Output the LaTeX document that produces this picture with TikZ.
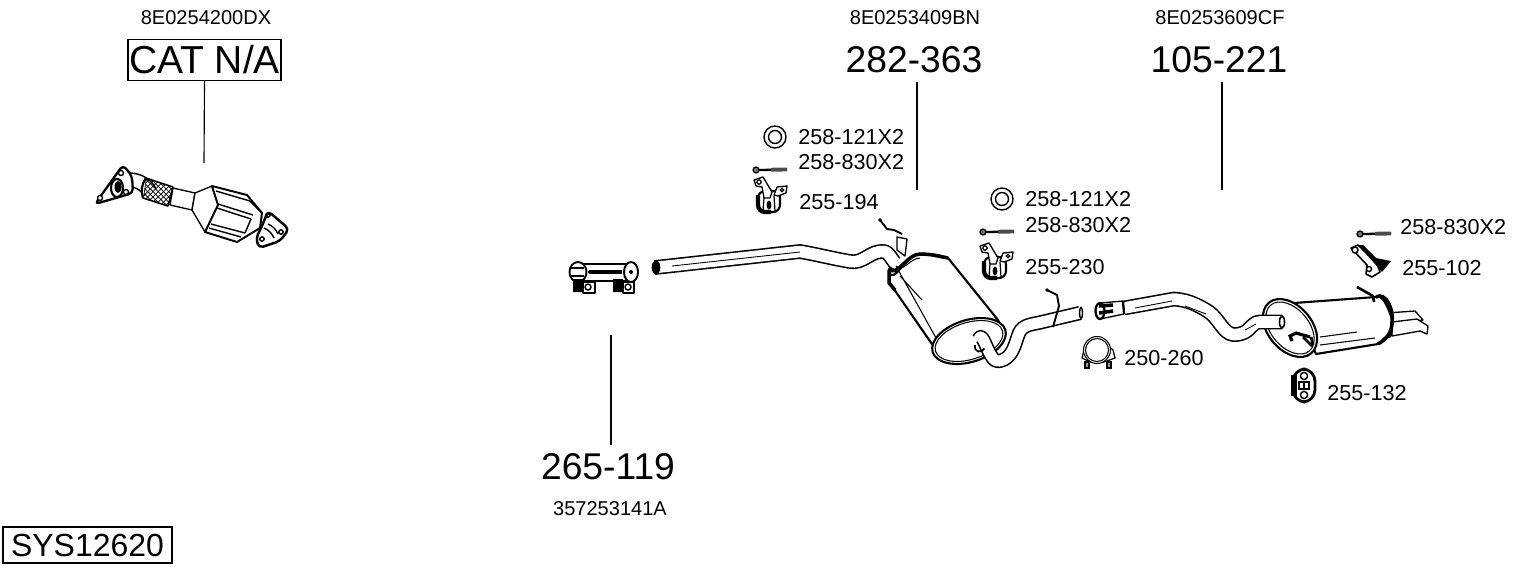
\documentclass[tikz,border=0pt]{standalone}
\usepackage{fontspec}
\setmainfont{Liberation Sans}
\usetikzlibrary{patterns}
\tikzset{
	partno/.style={inner sep=0pt, font=\fontsize{11.4pt}{13pt}\selectfont},
	refno/.style={inner sep=0pt, anchor=west, font=\fontsize{12.3pt}{14pt}\selectfont},
	bignum/.style={inner sep=5pt, font=\fontsize{21.2pt}{24pt}\selectfont},
	boxed/.style={draw, line width=0.6pt, inner sep=0pt, font=\fontsize{22.2pt}{24pt}\selectfont},
	lead/.style={line width=0.65pt},
	part/.style={draw, fill=white, line width=0.75pt, line join=round},
	heavy/.style={draw, fill=white, line width=1.2pt, line join=round},
	tube/.style={line width=0.9pt, double=white, line join=round},
	wire/.style={line width=1.1pt, line join=round},
	pics/hanger/.style={code={
		\draw[heavy, rounded corners=4] (-11,-10) rectangle (11,11);
		\draw[line width=2.4pt, rounded corners=4] (-11,-6) -- (-11,11) -- (2,11);
		\draw[part] (-15,-21) -- (-6,-24) -- (3,-9) -- (1,-3) -- (-5,-3) -- (-7,-14) -- (-13,-15) -- cycle;
		\draw[part] (5,-6) -- (8,-14) -- (18,-15) -- (17,-8) -- (9,-5) -- cycle;
		\draw[line width=0.7pt] (-10,-19) circle (2.2) (13,-11) circle (1.7);
		\fill (0,4) ellipse (2.4 and 4.5);
		\draw[line width=0.7pt] (-5,-3) -- (-6,10) (5,-5) -- (6,10);
	}},
	pics/bolt/.style={code={
		\draw[line width=0.7pt, fill=black!55] (0,0) circle (3);
		\draw[line width=1.3pt] (3,0) -- (31,-0.5);
		\draw[line width=2.2pt, black!70] (15,-0.3) -- (31,-0.5);
	}},
	pics/washer/.style={code={
		\draw[line width=0.8pt] (0,0) circle (11) (0,0) circle (6.5);
	}},
}
\begin{document}
\begin{tikzpicture}[x=0.02cm, y=-0.02cm]
	\useasboundingbox (0,0) rectangle (1530,566);
	% Labels on top and bottom
	\node[partno] (catno) at (206,18) {8E0254200DX};
	\node[boxed, minimum width=153*0.02cm, minimum height=41*0.02cm] (cat) at (204.5,60) {CAT N/A};
	\node[partno] (midno) at (915,18) {8E0253409BN};
	\node[bignum] (mid) at (914,60) {282-363};
	\node[partno] (rearno) at (1220,18) {8E0253609CF};
	\node[bignum] (rear) at (1219,60) {105-221};
	\node[bignum] (clamp) at (608,467) {265-119};
	\node[partno] (clampno) at (610,509) {357253141A};
	\node[boxed, font=\fontsize{18.2pt}{20pt}\selectfont, minimum width=169*0.02cm, minimum height=36*0.02cm] (sys) at (87.5,545) {SYS12620};

	% Leader lines
	\coordinate (catend) at (204,163);
	\coordinate (midend) at (917,190);
	\coordinate (rearend) at (1222,190);
	\coordinate (clampend) at (611,335);
	\draw[lead] (cat.south) -- (catend);
	\draw[lead] (mid.south -| midend) -- (midend);
	\draw[lead] (rear.south -| rearend) -- (rearend);
	\draw[lead] (clamp.north -| clampend) -- (clampend);

	% Small part numbers
	\node[refno] (a1) at (798,137.5) {258-121X2};
	\node[refno] (a2) at (798,162.5) {258-830X2};
	\node[refno] (a3) at (799,202.5) {255-194};
	\node[refno] (b1) at (1025,199.5) {258-121X2};
	\node[refno] (b2) at (1025,225.5) {258-830X2};
	\node[refno] (b3) at (1025,267.5) {255-230};
	\node[refno] (c1) at (1400,227.5) {258-830X2};
	\node[refno] (c2) at (1402,268.5) {255-102};
	\node[refno] (d1) at (1124,358.5) {250-260};
	\node[refno] (d2) at (1327,393.5) {255-132};

	% Small hardware
	\pic at (775,137) {washer};
	\pic at (1002,199) {washer};
	\pic at (756,170) {bolt};
	\pic at (983,232) {bolt};
	\pic at (1360,234) {bolt};
	\pic at (769,201) {hanger};
	\pic at (995,267) {hanger};

	% Catalytic converter
	\draw[tube, double distance=7pt] (128,180) to[bend left=30] (150,192);
	\draw[part, line width=1.3pt, rounded corners=2.5] (123,165) -- (132,176) -- (133,193) -- (95,204) -- cycle;
	\draw[line width=1.2pt] (117,188) ellipse (6 and 9);
	\fill (118,187) ellipse (3.5 and 6);
	\draw[line width=0.8pt, fill=white] (121,173) circle (2.5) (126,192) circle (2.5) (100,198) circle (2.5);
	\draw[part] (173,188) -- (195,193) -- (192,210) -- (170,205) -- cycle;
	\draw[part, line width=0.9pt, pattern=crosshatch] (146,178) -- (173,187) -- (168,206) -- (143,198) -- cycle;
	\draw[heavy] (146,178) to[bend right=25] (143,198);
	\draw[part] (195,193) -- (212,186) -- (218,205) -- (205,232) -- (192,210) -- cycle;
	\draw[part, line width=1.1pt] (212,186) -- (247,195) -- (262,213) -- (260,228) -- (237,242) -- (205,232) -- (218,205) -- cycle;
	\draw[line width=0.8pt] (216,191) -- (250,201) (218,204) -- (253,215) (217,208) -- (251,219) (211,224) -- (245,233) (209,228) -- (241,237);
	\draw[line width=0.8pt] (250,201) -- (262,213) (251,219) -- (245,233);
	\draw[heavy, line width=1.4pt, rounded corners=2.5] (268,211) -- (289,229) -- (280,241) -- (259,248) -- (256,238) -- (262,226) -- cycle;
	\draw[line width=0.8pt] (268,215) circle (2.2) (281,232) circle (2.2) (262,239) circle (2.2);
	\draw[line width=0.8pt] (264,228) to[bend left=20] (274,238) (268,224) to[bend left=20] (278,234);

	% Sliding clamp
	\draw[part] (582,264) rectangle (626,281);
	\draw[line width=2.2pt] (590,272) -- (622,272);
	\draw[part, line width=1.1pt] (578,272) ellipse (8.5 and 10);
	\draw[line width=1.3pt] (571,268) -- (584,268) (571,276) -- (584,276);
	\draw[part, line width=1.1pt] (631,272) ellipse (7 and 10);
	\fill (590,272) circle (2) (631,272) circle (2);
	\fill (573,279) rectangle (583,292) (613,279) rectangle (623,292);
	\draw[part] (583,282) rectangle (595,293) (623,282) rectangle (634,293);
	\draw[line width=0.8pt] (588,287) circle (3) (628,287) circle (3);

	% Middle pipe and silencer
	\draw[tube, double distance=6.6pt] (655,267.5) -- (800,251.5) to[out=-10, in=170] (850,261.5) to[out=-10, in=175] (884,251.5) to[out=-5, in=-125] (898,262);
	\draw[line width=0.5pt] (672,266) -- (800,252);
	\draw[line width=0.9pt, fill=black] (656,267.5) ellipse (3.5 and 6.5);
	\draw[part] (897,237) -- (907,239) -- (905,256) -- (897,250) -- cycle;
	\draw[wire] (880,220) -- (887,229) -- (894,230) -- (902,234);
	\fill (880,220) circle (1.8);

	\draw[heavy] (889,272) to[out=-70, in=180] (920,254) to[out=0, in=160] (948,258) -- (998,320) -- (1005,335) -- (934,347) -- (889,282) -- cycle;
	\draw[line width=2pt] (889,268) to[out=-60, in=180] (920,254) to[out=0, in=170] (948,258);
	\draw[line width=0.6pt] (896,266) to[out=-50, in=180] (920,258) (896,266) -- (936,338) (900,276) -- (922,300);
	\draw[line width=2pt] (889,270) -- (889,283) -- (895,290);
	\draw[part, line width=1.2pt] (969,341) ellipse [x radius=38, y radius=21, rotate=17];
	\draw[line width=0.6pt] (969,341) ellipse [x radius=35, y radius=18.5, rotate=17];
	\draw[tube, double distance=6.3pt] (979,339) to[out=70, in=-160] (1000,361) to[out=15, in=-110] (1019,333) to[out=65, in=-165] (1042,322) -- (1080,313);
	\draw[line width=1pt] (975,345) arc[start angle=200, end angle=20, radius=5];
	\draw[line width=0.8pt, fill=white] (1081,313) ellipse (1.5 and 5.5);
	\draw[wire] (1047,290) -- (1057,295) -- (1059,306) -- (1053,327);
	\fill (1047,290) circle (1.8);

	% Rear pipe and silencer
	\draw[part] (1386,313) -- (1415,311) -- (1423,320) -- (1410,322) -- (1390,324) -- cycle;
	\draw[part] (1392,322) -- (1417,319) -- (1428,326) -- (1427,334) -- (1420,331) -- (1392,336) -- cycle;

	\draw[heavy] (1294,303) -- (1376,297) to[out=30, in=-70] (1392,322) to[out=100, in=-20] (1388,337) to[out=160, in=10] (1378,344) -- (1316,354) -- cycle;
	\draw[line width=2pt] (1376,297) to[out=30, in=80] (1392,322) to[out=-90, in=30] (1378,344);
	\draw[line width=0.6pt] (1320,337) -- (1357,332) (1320,345) -- (1375,338);
	\draw[part, line width=1.2pt] (1290,328) ellipse [x radius=33, y radius=22, rotate=-50];
	\draw[line width=0.6pt] (1290,328) ellipse [x radius=30, y radius=19, rotate=-50];
	\draw[line width=1.8pt] (1292,341) -- (1290,336) -- (1296,333) -- (1310,337);
	\draw[line width=1.6pt] (1303,337) -- (1312,346) (1311,337) -- (1313,345);
	\draw[tube, double distance=6.6pt] (1124,308) -- (1174,299) to[out=-5, in=150] (1206,310) to[out=-30, in=135] (1226,331) to[out=-45, in=200] (1243,333) to[out=20, in=180] (1260,322) -- (1282,322);
	\draw[line width=0.5pt] (1135,308) -- (1172,301) (1185,306) -- (1206,314) (1245,330) -- (1256,324);
	\draw[line width=0.9pt, fill=white] (1282,322) ellipse (2.5 and 6);
	\draw[part] (1100,303) -- (1123,301) -- (1124,314) -- (1100,319) -- cycle;
	\draw[line width=1.3pt] (1123,301) -- (1124,314);
	\draw[part, line width=1.3pt] (1100,311) ellipse (4.5 and 8);
	\draw[line width=2pt] (1099,306) -- (1113,305) (1099,313) -- (1113,311);
	\draw[wire, line width=1.5pt] (1357,287) -- (1373,296) -- (1374,302);

	% Clamp 250-260
	\draw[line width=0.7pt, fill=white] (1082,358) -- (1084,350) -- (1092,342) -- (1104,342) -- (1113,350) -- (1115,358) -- (1104,362) -- (1090,362) -- cycle;
	\draw[part, line width=0.6pt] (1097,350) circle (13.5);
	\draw[line width=0.6pt] (1097,350) circle (11.5);
	\draw[line width=0.7pt, fill=black!40] (1085,362) rectangle (1089,368) (1107,362) rectangle (1111,368);

	% Hanger 255-132
	\draw[heavy, line width=1.6pt, rounded corners=7] (1293,369) rectangle (1315,402);
	\draw[line width=3pt] (1294,375) -- (1294,396);
	\draw[line width=0.8pt] (1304,376) circle (3.6) (1304,395) circle (3.6);
	\draw[line width=0.9pt] (1299,382) -- (1309,382) -- (1309,389) -- (1299,389) -- cycle (1304,382) -- (1304,389);

	% Hanger 255-102
	\draw[part, line width=0.9pt] (1351,248) -- (1358,245) -- (1376,262) -- (1380,272) -- (1372,277) -- (1366,274) -- (1367,265) -- cycle;
	\fill (1358,245) -- (1363,245) -- (1376,258) -- (1391,261) -- (1382,272) -- (1375,264) -- cycle;
	\draw[line width=0.8pt, fill=white] (1355,250) circle (3) (1369,269) circle (2.5);
\end{tikzpicture}
\end{document}
